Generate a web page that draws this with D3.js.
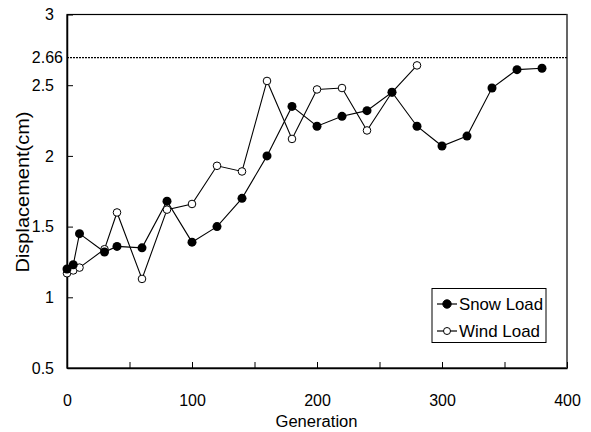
<!DOCTYPE html>
<html>
<head>
<meta charset="utf-8">
<script src="https://cdnjs.cloudflare.com/ajax/libs/d3/7.8.5/d3.min.js"></script>
<style>
  body { margin: 0; background: #fff; }
  svg { font-family: "Liberation Sans", Arial, sans-serif; }
  .axis path, .axis line { stroke: #000; }
</style>
</head>
<body>
<svg width="591" height="432"></svg>
<script>
// data
var snowGen = [0, 5, 10, 30, 40, 60, 80, 100, 120, 140, 160, 180, 200, 220, 240, 260, 280, 300, 320, 340, 360, 380];
var snowVal = [1.20, 1.23, 1.45, 1.32, 1.36, 1.35, 1.68, 1.39, 1.50, 1.70, 2.00, 2.35, 2.21, 2.28, 2.32, 2.45, 2.21, 2.07, 2.14, 2.48, 2.61, 2.62];
var windGen = [0, 5, 10, 30, 40, 60, 80, 100, 120, 140, 160, 180, 200, 220, 240, 260, 280];
var windVal = [1.17, 1.19, 1.21, 1.34, 1.60, 1.13, 1.62, 1.66, 1.93, 1.89, 2.53, 2.12, 2.47, 2.48, 2.18, 2.45, 2.64];
var limitLabel = '2.66';
var limitDrawnAt = 2.695; // the dotted line sits a little above 2.66 in the source
var xTicks = [0, 100, 200, 300, 400];
var xMinorTicks = [50, 150, 250, 350];
var yTicks = [0.5, 1, 1.5, 2, 2.5, 3];

var svg = d3.select('svg');
var margin = {t: 14.5, l: 67, r: 24, b: 64};
var width = 591 - margin.l - margin.r;
var height = 432 - margin.t - margin.b;

var xScale = d3.scaleLinear().domain([0, 400]).range([0, width]);
var yScale = d3.scaleLinear().domain([0.5, 3]).range([height, 0]);

var g = svg.append('g').attr('transform', 'translate(' + margin.l + ',' + margin.t + ')');

// frame
g.append('rect').attr('width', width).attr('height', height)
    .attr('fill', 'none').attr('stroke', '#000').attr('stroke-width', 1.2);
g.append('line').attr('x1', width).attr('x2', width).attr('y1', 0).attr('y2', height)
    .attr('stroke', '#666').attr('stroke-width', 1.5);

// axes, ticks pointing inward
var xAxis = g.append('g').attr('class', 'axis')
    .attr('transform', 'translate(0,' + height + ')')
    .call(d3.axisBottom(xScale).tickValues(xTicks).tickSizeInner(-6).tickSizeOuter(0).tickPadding(27));
xAxis.select('.domain').attr('stroke-width', 1.5);
xAxis.selectAll('text').attr('font-size', 16).attr('fill', '#000');
g.append('g').attr('class', 'axis')
    .attr('transform', 'translate(0,' + height + ')')
    .call(d3.axisBottom(xScale).tickValues(xMinorTicks).tickSizeInner(-6).tickSizeOuter(0).tickFormat(''))
    .select('.domain').remove();

var yAxis = g.append('g').attr('class', 'axis')
    .call(d3.axisLeft(yScale).tickValues(yTicks).tickSizeInner(-6).tickSizeOuter(0).tickPadding(13)
        .tickFormat(function(d) { return d3.format('~g')(d); }));
yAxis.select('.domain').attr('stroke-width', 1.5);
yAxis.selectAll('text').attr('font-size', 16).attr('fill', '#000');

// 2.66 limit line
g.append('line')
    .attr('x1', 0).attr('x2', width)
    .attr('y1', yScale(limitDrawnAt)).attr('y2', yScale(limitDrawnAt))
    .attr('stroke', '#000').attr('stroke-width', 1.2).attr('stroke-dasharray', '2,1');
g.append('text').attr('x', -4).attr('y', yScale(limitDrawnAt)).attr('dy', '0.35em')
    .attr('text-anchor', 'end').attr('font-size', 16).text(limitLabel);

// axis titles
svg.append('text').attr('x', margin.l + width / 2 - 0.5).attr('y', 427)
    .attr('text-anchor', 'middle').attr('font-size', 16)
    .attr('textLength', 82).attr('lengthAdjust', 'spacingAndGlyphs').text('Generation');
svg.append('text').attr('transform', 'translate(29,192) rotate(-90)')
    .attr('text-anchor', 'middle').attr('font-size', 18)
    .attr('textLength', 161).attr('lengthAdjust', 'spacingAndGlyphs').text('Displacement(cm)');

var line = d3.line().x(d => xScale(d[0])).y(d => yScale(d[1]));
var snow = d3.zip(snowGen, snowVal);
var wind = d3.zip(windGen, windVal);

g.append('path').attr('d', line(wind)).attr('fill', 'none').attr('stroke', '#000').attr('stroke-width', 1.1);
g.append('path').attr('d', line(snow)).attr('fill', 'none').attr('stroke', '#000').attr('stroke-width', 1.1);

g.selectAll('.wind').data(wind).enter().append('circle').attr('class', 'wind')
    .attr('cx', d => xScale(d[0])).attr('cy', d => yScale(d[1])).attr('r', 3.8)
    .attr('fill', '#fff').attr('stroke', '#000').attr('stroke-width', 1);
g.selectAll('.snow').data(snow).enter().append('circle').attr('class', 'snow')
    .attr('cx', d => xScale(d[0])).attr('cy', d => yScale(d[1])).attr('r', 4.5)
    .attr('fill', '#000');

// legend
var legend = svg.append('g').attr('transform', 'translate(432,288.5)');
legend.append('rect').attr('width', 114).attr('height', 54)
    .attr('fill', '#fff').attr('stroke', '#000').attr('stroke-width', 1);
var items = [{name: 'Snow Load', filled: true, y: 15.5}, {name: 'Wind Load', filled: false, y: 42.5}];
items.forEach(function(it) {
    legend.append('line').attr('x1', 5).attr('x2', 25).attr('y1', it.y).attr('y2', it.y)
        .attr('stroke', '#000').attr('stroke-width', 1.2);
    legend.append('circle').attr('cx', 15).attr('cy', it.y).attr('r', it.filled ? 4.2 : 3.5)
        .attr('fill', it.filled ? '#000' : '#fff').attr('stroke', '#000').attr('stroke-width', 1);
    legend.append('text').attr('x', 27).attr('y', it.y).attr('dy', '0.35em')
        .attr('font-size', 17).attr('textLength', it.filled ? 84 : 81)
        .attr('lengthAdjust', 'spacingAndGlyphs').text(it.name);
});
</script>
</body>
</html>
